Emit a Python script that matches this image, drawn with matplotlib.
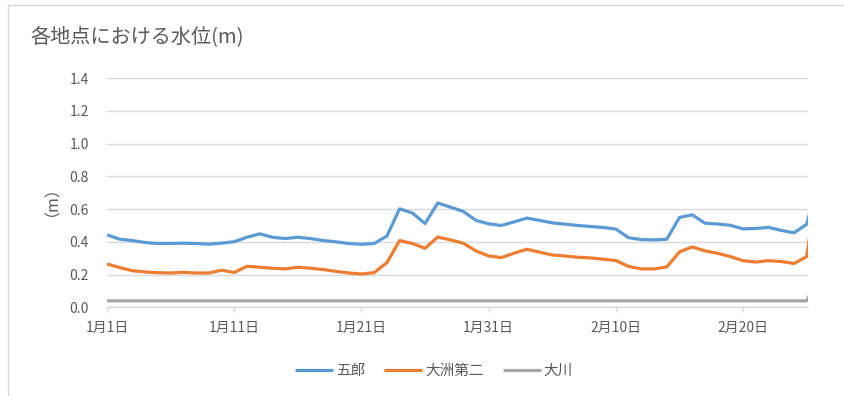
import pandas as pd
import matplotlib
matplotlib.use('Agg')
from matplotlib import pyplot as plt, patches as mpatches

plt.rcParams['font.family'] = ['Noto Sans CJK JP', 'DejaVu Sans']

# Daily water levels (m), 1 Jan - 26 Feb
dates = pd.date_range('2021-01-01', periods=57, freq='D')

goro = [0.443, 0.416, 0.408, 0.396, 0.390, 0.390, 0.392, 0.390, 0.386, 0.392,
        0.401, 0.428, 0.449, 0.428, 0.420, 0.428, 0.420, 0.408, 0.400, 0.390,
        0.385, 0.390, 0.435, 0.602, 0.576, 0.512, 0.637, 0.612, 0.586, 0.531,
        0.510, 0.500, 0.522, 0.545, 0.531, 0.516, 0.508, 0.500, 0.494, 0.488,
        0.478, 0.425, 0.414, 0.412, 0.416, 0.549, 0.565, 0.514, 0.509, 0.501,
        0.479, 0.482, 0.488, 0.470, 0.455, 0.508, 0.800]

ozu2 = [0.265, 0.243, 0.224, 0.216, 0.212, 0.210, 0.214, 0.210, 0.210, 0.227,
        0.213, 0.251, 0.245, 0.239, 0.235, 0.245, 0.239, 0.231, 0.220, 0.210,
        0.204, 0.212, 0.273, 0.408, 0.390, 0.361, 0.429, 0.412, 0.392, 0.345,
        0.314, 0.304, 0.331, 0.355, 0.337, 0.320, 0.314, 0.306, 0.302, 0.294,
        0.286, 0.250, 0.235, 0.235, 0.247, 0.339, 0.369, 0.345, 0.330, 0.310,
        0.285, 0.277, 0.285, 0.280, 0.268, 0.310, 0.850]

okawa = [0.04, 0.04, 0.04, 0.04, 0.04, 0.04, 0.04, 0.04, 0.04, 0.04,
         0.04, 0.04, 0.04, 0.04, 0.04, 0.04, 0.04, 0.04, 0.04, 0.04,
         0.04, 0.04, 0.04, 0.04, 0.04, 0.04, 0.04, 0.04, 0.04, 0.04,
         0.04, 0.04, 0.04, 0.04, 0.04, 0.04, 0.04, 0.04, 0.04, 0.04,
         0.04, 0.04, 0.04, 0.04, 0.04, 0.04, 0.04, 0.04, 0.04, 0.04,
         0.04, 0.04, 0.04, 0.04, 0.04, 0.04, 0.20]

series_names = ['五郎', '大洲第二', '大川']
colors = ['#5B9BD5', '#ED7D31', '#A5A5A5']

tick_dates = pd.to_datetime(['2021-01-01', '2021-01-11', '2021-01-21',
                             '2021-01-31', '2021-02-10', '2021-02-20'])
tick_labels = ['1月1日', '1月11日', '1月21日', '1月31日', '2月10日', '2月20日']
y_ticks = [0.0, 0.2, 0.4, 0.6, 0.8, 1.0, 1.2, 1.4]

text_color = '#595959'
grid_color = '#d9d9d9'

fig = plt.figure(figsize=(8.45, 3.96), dpi=100)
ax = fig.add_axes([107 / 845, 1 - 307.4 / 396, 701 / 845, 229.4 / 396])

for vals, name, c in zip([goro, ozu2, okawa], series_names, colors):
    ax.plot(dates, vals, color=c, lw=2.3, label=name,
            solid_joinstyle='round', solid_capstyle='butt')

# axis range ends just past 25 Feb
ax.set_xlim(dates[0], dates[55] + pd.Timedelta(hours=2.4))
ax.set_ylim(0, 1.4)

ax.set_yticks(y_ticks)
ax.set_yticklabels([f'{v:.1f}' for v in y_ticks])
ax.set_xticks(tick_dates)
ax.set_xticklabels(tick_labels)

ax.tick_params(axis='y', length=0, pad=13, labelsize=10, labelcolor=text_color)
ax.tick_params(axis='x', length=3.6, width=1, color=grid_color, pad=6,
               labelsize=10, labelcolor=text_color)

ax.yaxis.grid(True, color=grid_color, lw=1)
ax.set_axisbelow(True)
for side in ['top', 'right', 'left']:
    ax.spines[side].set_visible(False)
ax.spines['bottom'].set_color(grid_color)

ax.set_ylabel('（m）', color=text_color, fontsize=11.5)
ax.yaxis.set_label_coords(-0.078, 0.5)

fig.text(30 / 845, 1 - 38 / 396, '各地点における水位(m)', ha='left', va='center',
         fontsize=14.5, color=text_color)

fig.legend(loc='center', bbox_to_anchor=(434 / 845, 1 - 371 / 396), ncol=3,
           frameon=False, handlelength=2.6, handletextpad=0.2,
           columnspacing=1.3, fontsize=10.5, labelcolor=text_color)

# chart area outline
fig.patches.append(mpatches.Rectangle((8 / 845, -0.1), 1.2, 0.1 + 391 / 396,
                                      transform=fig.transFigure, fill=False,
                                      edgecolor=grid_color, lw=1))

plt.savefig('out.png', dpi=100)
